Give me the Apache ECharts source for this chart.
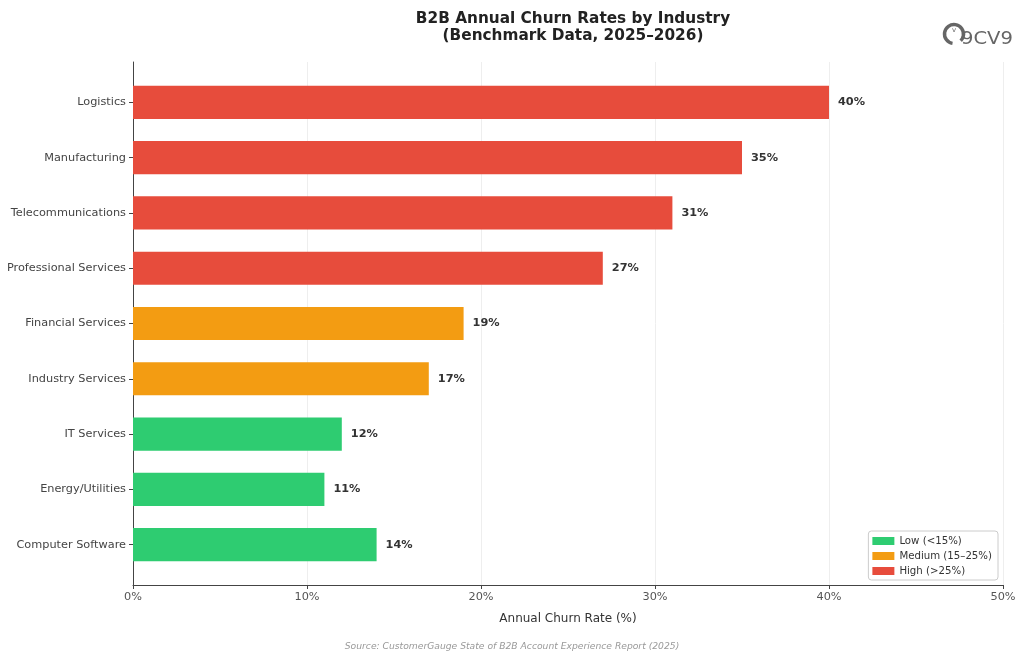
<!DOCTYPE html>
<html>
<head>
<meta charset="utf-8">
<script src="https://cdn.jsdelivr.net/npm/echarts@6/dist/echarts.min.js"></script>
<style>
  html, body { margin: 0; padding: 0; background: #fff; }
  #chart { width: 1024px; height: 660px; }
</style>
</head>
<body>
<div id="chart"></div>
<script>
const industries = [
  "Logistics", "Manufacturing", "Telecommunications", "Professional Services",
  "Financial Services", "Industry Services", "IT Services", "Energy/Utilities",
  "Computer Software"
];
const churnRates = [40, 35, 31, 27, 19, 17, 12, 11, 14];
const xTicks = [0, 10, 20, 30, 40, 50];

const tiers = [
  { name: "Low (<15%)", color: "#2ecc71", test: v => v < 15 },
  { name: "Medium (15–25%)", color: "#f39c12", test: v => v >= 15 && v <= 25 },
  { name: "High (>25%)", color: "#e74c3c", test: v => v > 25 }
];

const font = "DejaVu Sans";

function drawBar(params, api) {
  const v = api.value(0);
  const i = api.value(1);
  const start = api.coord([0, i]);
  const end = api.coord([v, i]);
  const h = api.size([0, 0.6])[1];
  return {
    type: "rect",
    shape: { x: start[0], y: start[1] - h / 2, width: end[0] - start[0], height: h },
    style: { fill: api.visual("color") },
    textContent: {
      style: { text: v + "%", fontWeight: "bold", fontSize: 11.3, fill: "#333", fontFamily: font }
    },
    textConfig: { position: "right", distance: 9 }
  };
}

const series = tiers.map(t => ({
  name: t.name,
  type: "custom",
  renderItem: drawBar,
  itemStyle: { color: t.color },
  encode: { x: 0, y: 1 },
  data: churnRates.map((v, i) => [v, i]).filter(d => t.test(d[0]))
}));

const chart = echarts.init(document.getElementById("chart"));
chart.setOption({
  animation: false,
  backgroundColor: "#fff",
  textStyle: { fontFamily: font },
  title: {
    text: "B2B Annual Churn Rates by Industry\n(Benchmark Data, 2025–2026)",
    left: 568,
    textAlign: "center",
    top: 6,
    textStyle: { fontSize: 15.3, fontWeight: "bold", color: "#222", lineHeight: 17, fontFamily: font }
  },
  legend: {
    orient: "vertical",
    right: 26,
    bottom: 80,
    itemWidth: 22,
    itemHeight: 8,
    itemGap: 5,
    padding: [5, 6, 4, 4],
    borderColor: "#ccc",
    borderWidth: 1,
    borderRadius: 3,
    icon: "rect",
    textStyle: { fontSize: 10.2, color: "#333", fontFamily: font },
    data: tiers.map(t => t.name)
  },
  grid: { left: 133, right: 21, top: 62, bottom: 75 },
  xAxis: {
    type: "value",
    min: 0,
    max: 50,
    interval: 10,
    name: "Annual Churn Rate (%)",
    nameLocation: "middle",
    nameGap: 28,
    nameTextStyle: { fontSize: 12, color: "#333", fontFamily: font },
    axisLine: { show: true, onZero: false, lineStyle: { color: "#444" } },
    axisTick: { show: true, length: 4, lineStyle: { color: "#444" } },
    axisLabel: { formatter: v => xTicks.includes(v) ? v + "%" : "", fontSize: 11.3, color: "#555", margin: 7 },
    splitLine: { show: true, lineStyle: { color: "#eee" } }
  },
  yAxis: {
    type: "value",
    inverse: true,
    min: -0.73,
    max: 8.73,
    axisLine: { show: true, onZero: false, lineStyle: { color: "#444" } },
    axisTick: { show: true, length: 4, customValues: industries.map((_, i) => i), lineStyle: { color: "#444" } },
    axisLabel: {
      customValues: industries.map((_, i) => i),
      formatter: v => industries[Math.round(v)] || "",
      fontSize: 11.3, color: "#444", margin: 7
    },
    splitLine: { show: false }
  },
  graphic: [
    {
      type: "text",
      left: "center",
      top: 642,
      style: {
        text: "Source: CustomerGauge State of B2B Account Experience Report (2025)",
        fontSize: 9.2, fontStyle: "italic", fill: "#999", fontFamily: font
      }
    },
    {
      type: "arc",
      shape: { cx: 954, cy: 34, r: 9.5, startAngle: Math.PI * 0.55, endAngle: Math.PI * 0.25 },
      style: { stroke: "#666", lineWidth: 3.5, fill: null }
    },
    {
      type: "text",
      x: 952, y: 27,
      style: { text: "v", fontSize: 7, fill: "#666", fontFamily: font }
    },
    {
      type: "text",
      x: 961, y: 31,
      scaleX: 1.15,
      style: { text: "9CV9", fontSize: 17, fill: "#666", fontFamily: font }
    }
  ],
  series: series
});
</script>
</body>
</html>
